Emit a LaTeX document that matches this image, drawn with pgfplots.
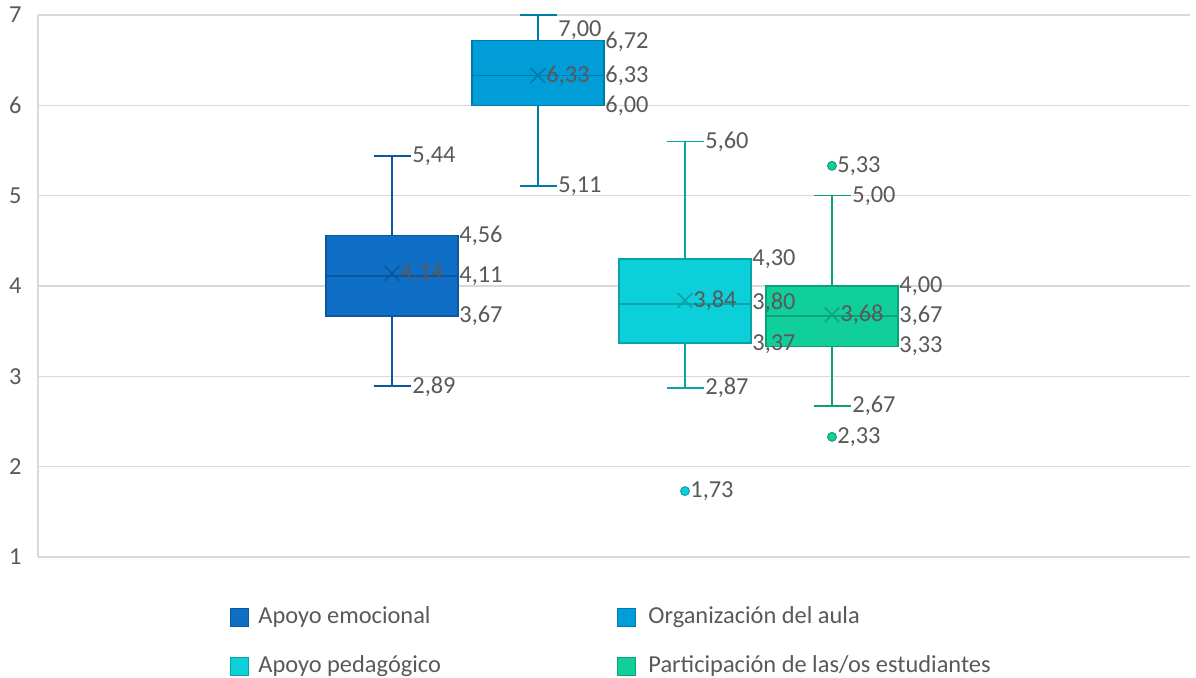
\documentclass[border=0pt]{standalone}
\usepackage{pgfplots}
\pgfplotsset{compat=1.18}
\usepgfplotslibrary{statistics}
\usepackage{fontspec}
\setmainfont{Carlito}

\definecolor{c1}{HTML}{0F6FC6}
\definecolor{c2}{HTML}{009DD9}
\definecolor{c3}{HTML}{0BD0D9}
\definecolor{c4}{HTML}{10CF9B}
\colorlet{d1}{c1!78!black}
\colorlet{d2}{c2!78!black}
\colorlet{d3}{c3!78!black}
\colorlet{d4}{c4!78!black}
\definecolor{tc}{HTML}{595959}
\definecolor{gc}{HTML}{D9D9D9}

\newcommand{\lbl}{\fontsize{12.2}{14}\selectfont}

\begin{document}
\begin{tikzpicture}
% page size, reference pixels at 0.5pt each
\path (0pt,0pt) rectangle (598pt,338.5pt);

% x in hundreds of reference pixels
\begin{axis}[
    at={(19pt,60pt)}, anchor=south west,
    scale only axis,
    width=576pt, height=271pt,
    xmin=0.38, xmax=11.90,
    ymin=1, ymax=7,
    ytick={1,...,7},
    axis x line=none,
    axis y line*=left,
    y axis line style={gc, line width=0.75pt},
    ymajorgrids,
    grid style={gc, line width=0.75pt},
    major tick length=0pt,
    ytick style={draw=none},
    yticklabel style={anchor=east, inner sep=0pt, xshift=-8pt, text=tc, font=\lbl},
    /pgf/number format/assume math mode=true,
    clip=false,
    boxplot/draw direction=y,
    boxplot/box extend=1.32,
    boxplot/whisker extend=0.37,
]

% Apoyo emocional
\addplot[boxplot prepared={draw position=3.92,
    lower whisker=2.89, lower quartile=3.67, median=4.11,
    upper quartile=4.56, upper whisker=5.44},
    fill=c1, draw=d1, line width=0.8pt] coordinates {};
% Organizacion del aula
\addplot[boxplot prepared={draw position=5.38,
    lower whisker=5.11, lower quartile=6.00, median=6.33,
    upper quartile=6.72, upper whisker=7.00},
    fill=c2, draw=d2, line width=0.8pt] coordinates {};
% Apoyo pedagogico
\addplot[boxplot prepared={draw position=6.85,
    lower whisker=2.87, lower quartile=3.37, median=3.80,
    upper quartile=4.30, upper whisker=5.60},
    fill=c3, draw=d3, line width=0.8pt] coordinates {};
% Participacion
\addplot[boxplot prepared={draw position=8.32,
    lower whisker=2.67, lower quartile=3.33, median=3.67,
    upper quartile=4.00, upper whisker=5.00},
    fill=c4, draw=d4, line width=0.8pt] coordinates {};

% means
\addplot[only marks, mark=x, mark size=5.2pt, d1, line width=0.75pt] coordinates {(3.92,4.14)};
\addplot[only marks, mark=x, mark size=5.2pt, d2, line width=0.75pt] coordinates {(5.38,6.33)};
\addplot[only marks, mark=x, mark size=5.2pt, d3, line width=0.75pt] coordinates {(6.85,3.84)};
\addplot[only marks, mark=x, mark size=5.2pt, d4, line width=0.75pt] coordinates {(8.32,3.68)};

% outliers
\addplot[only marks, mark=*, mark size=2.2pt, fill=c3, draw=d3, line width=0.5pt] coordinates {(6.85,1.73)};
\addplot[only marks, mark=*, mark size=2.2pt, fill=c4, draw=d4, line width=0.5pt] coordinates {(8.32,5.33) (8.32,2.33)};

% data labels
\begin{scope}[every node/.style={anchor=west, inner sep=0pt, text=tc, font=\lbl}]
\node at (axis cs:4.12,5.44) {5,44};
\node at (axis cs:4.59,4.56) {4,56};
\node at (axis cs:4.00,4.14) {4,14};
\node at (axis cs:4.59,4.11) {4,11};
\node at (axis cs:4.59,3.67) {3,67};
\node at (axis cs:4.12,2.89) {2,89};

\node at (axis cs:5.58,6.83) {7,00};
\node at (axis cs:6.05,6.70) {6,72};
\node at (axis cs:5.46,6.33) {6,33};
\node at (axis cs:6.05,6.33) {6,33};
\node at (axis cs:6.05,6.00) {6,00};
\node at (axis cs:5.58,5.11) {5,11};

\node at (axis cs:7.05,5.60) {5,60};
\node at (axis cs:7.52,4.30) {4,30};
\node at (axis cs:6.93,3.84) {3,84};
\node at (axis cs:7.52,3.81) {3,80};
\node at (axis cs:7.52,3.36) {3,37};
\node at (axis cs:7.05,2.87) {2,87};
\node at (axis cs:6.90,1.73) {1,73};

\node at (axis cs:8.37,5.33) {5,33};
\node at (axis cs:8.52,5.00) {5,00};
\node at (axis cs:8.99,4.00) {4,00};
\node at (axis cs:8.40,3.68) {3,68};
\node at (axis cs:8.99,3.67) {3,67};
\node at (axis cs:8.99,3.33) {3,33};
\node at (axis cs:8.52,2.67) {2,67};
\node at (axis cs:8.37,2.33) {2,33};
\end{scope}
\end{axis}

% legend
\begin{scope}[x=0.5pt, y=0.5pt, every node/.style={anchor=west, inner sep=0pt, text=tc, font=\lbl}]
\filldraw[fill=c1, draw=d1, line width=0.5pt] (230,51) rectangle (248,69);
\node at (258,60) {Apoyo emocional};
\filldraw[fill=c2, draw=d2, line width=0.5pt] (617,51) rectangle (635,69);
\node at (648,60) {Organización del aula};
\filldraw[fill=c3, draw=d3, line width=0.5pt] (230,2) rectangle (248,20);
\node at (258,11) {Apoyo pedagógico};
\filldraw[fill=c4, draw=d4, line width=0.5pt] (617,2) rectangle (635,20);
\node at (648,11) {Participación de las/os estudiantes};
\end{scope}
\end{tikzpicture}
\end{document}
